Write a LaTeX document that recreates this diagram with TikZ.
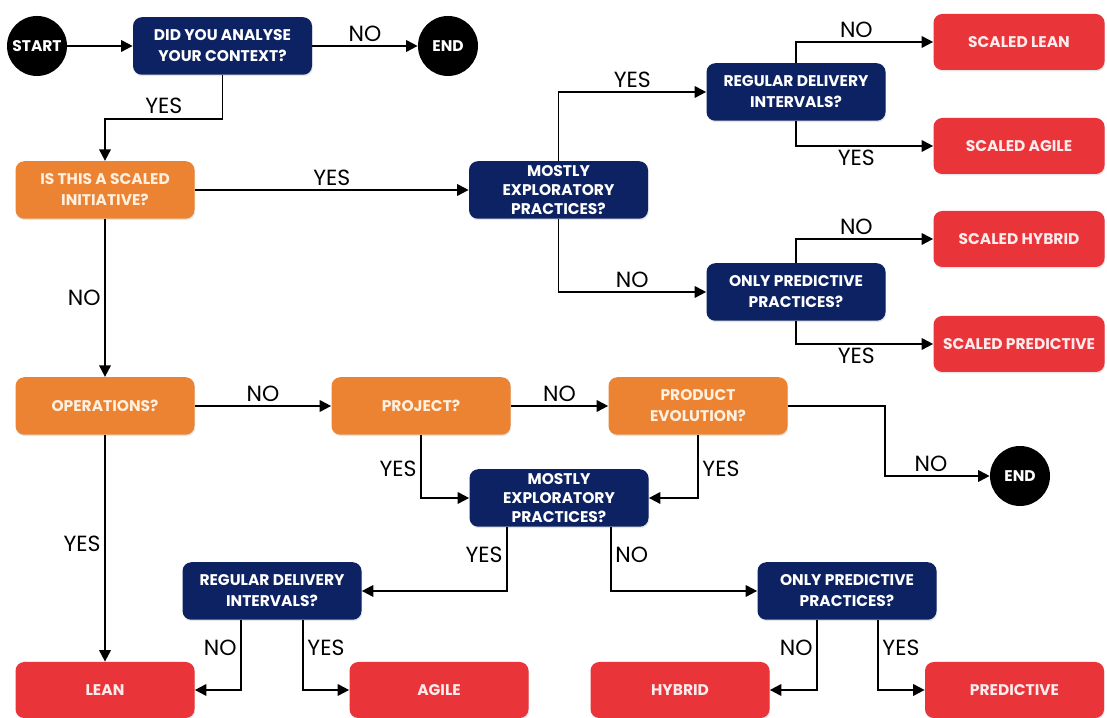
\documentclass[tikz,border=0pt]{standalone}
\usepackage{fontspec}
\setmainfont{Poppins}
\usepackage{tikz}
\usetikzlibrary{arrows.meta, positioning, shadows, calc}
\usepackage{xcolor}

\definecolor{navy}{RGB}{13,34,99}
\definecolor{flowOrange}{RGB}{236,131,50}
\definecolor{flowRed}{RGB}{233,52,58}

\tikzset{
  box/.style={rounded corners=5pt, minimum width=3.58cm, minimum height=1.15cm,
    align=center, inner sep=2pt, font=\bfseries\fontsize{8.8}{12}\selectfont,
    drop shadow={opacity=0.2, shadow xshift=0.4pt, shadow yshift=-0.8pt}},
  question/.style={box, fill=navy, text=white},
  threeline/.style={font=\bfseries\fontsize{8.8}{10.6}\selectfont},
  context/.style={box, fill=flowOrange, text=white!88!orange},
  outcome/.style={box, fill=flowRed, text=white!92!red, minimum height=1.12cm},
  terminal/.style={circle, fill=black, text=white, minimum size=1.2cm, inner sep=0pt,
    font=\bfseries\fontsize{8.8}{10}\selectfont},
  flow/.style={line width=1.1pt, -{Triangle[length=6.5pt, width=6.5pt]}},
  lbl/.style={font=\fontsize{12.5}{14}\selectfont, inner sep=2pt}
}

\begin{document}
\begin{tikzpicture}

  \fill[white] (0,0) rectangle (22.14,14.36);
  \useasboundingbox (0,0) rectangle (22.14,14.36);

  % Start
  \node[terminal] (start) at (0.74,13.44) {START};
  \node[question] (analyse) at (4.45,13.44) {DID YOU ANALYSE\\YOUR CONTEXT?};
  \node[terminal] (end1) at (8.96,13.44) {END};

  % Scaled branch
  \node[context] (scaled) at (2.10,10.56) {IS THIS A SCALED\\INITIATIVE?};
  \node[question, threeline] (mostlyS) at (11.17,10.56) {MOSTLY\\EXPLORATORY\\PRACTICES?};
  \node[question] (regularS) at (15.92,12.52) {REGULAR DELIVERY\\INTERVALS?};
  \node[question] (onlyS) at (15.92,8.52) {ONLY PREDICTIVE\\PRACTICES?};
  \node[outcome, minimum width=3.42cm] (scLean) at (20.38,13.52) {SCALED LEAN};
  \node[outcome, minimum width=3.42cm] (scAgile) at (20.38,11.44) {SCALED AGILE};
  \node[outcome, minimum width=3.42cm] (scHybrid) at (20.38,9.58) {SCALED HYBRID};
  \node[outcome, minimum width=3.42cm] (scPredictive) at (20.38,7.48) {SCALED PREDICTIVE};

  % Non-scaled branch
  \node[context] (operations) at (2.10,6.24) {OPERATIONS?};
  \node[context] (project) at (8.42,6.24) {PROJECT?};
  \node[context] (product) at (13.96,6.24) {PRODUCT\\EVOLUTION?};
  \node[terminal] (end2) at (20.40,4.84) {END};
  \node[question, threeline] (mostly) at (11.18,4.40) {MOSTLY\\EXPLORATORY\\PRACTICES?};
  \node[question] (regular) at (5.44,2.54) {REGULAR DELIVERY\\INTERVALS?};
  \node[question] (only) at (16.94,2.54) {ONLY PREDICTIVE\\PRACTICES?};
  \node[outcome] (lean) at (2.10,0.56) {LEAN};
  \node[outcome] (agile) at (8.78,0.56) {AGILE};
  \node[outcome] (hybrid) at (13.60,0.56) {HYBRID};
  \node[outcome] (predictive) at (20.29,0.56) {PREDICTIVE};

  % Connectors, top
  \draw[flow] (start) -- (analyse);
  \draw[flow] (analyse) -- node[lbl, above] {NO} (end1);
  \draw[flow] (analyse.south) -- ++(0,-0.87) -| node[lbl, above, pos=0.25] {YES} (scaled.north);
  \draw[flow] (scaled) -- node[lbl, above] {YES} (mostlyS);
  \draw[flow] (mostlyS.north) |- node[lbl, above, pos=0.75] {YES} (regularS.west);
  \draw[flow] (mostlyS.south) |- node[lbl, above, pos=0.75] {NO} (onlyS.west);
  \draw[flow] (regularS.north) |- node[lbl, above, pos=0.72] {NO} (scLean.west);
  \draw[flow] (regularS.south) |- node[lbl, below, pos=0.72] {YES} (scAgile.west);
  \draw[flow] (onlyS.north) |- node[lbl, above, pos=0.72] {NO} (scHybrid.west);
  \draw[flow] (onlyS.south) |- node[lbl, below, pos=0.72] {YES} (scPredictive.west);

  % Connectors, bottom
  \draw[flow] (scaled) -- node[lbl, left] {NO} (operations);
  \draw[flow] (operations) -- node[lbl, above] {NO} (project);
  \draw[flow] (project) -- node[lbl, above] {NO} (product);
  \draw[flow] (operations) -- node[lbl, left, pos=0.48] {YES} (lean);
  \draw[flow] (product.east) -- ++(1.94,0) |- node[lbl, above, pos=0.72] {NO} (end2.west);
  \draw[flow] (project.south) |- node[lbl, left, pos=0.27] {YES} (mostly.west);
  \draw[flow] (product.south) |- node[lbl, right, pos=0.27] {YES} (mostly.east);
  \draw[flow] ([xshift=-1.04cm]mostly.south) |- node[lbl, left, pos=0.22] {YES} (regular.east);
  \draw[flow] ([xshift=1.04cm]mostly.south) |- node[lbl, right, pos=0.22] {NO} (only.west);
  \draw[flow] ([xshift=-0.62cm]regular.south) |- node[lbl, left, pos=0.2] {NO} (lean.east);
  \draw[flow] ([xshift=0.62cm]regular.south) |- node[lbl, right, pos=0.2] {YES} (agile.west);
  \draw[flow] ([xshift=-0.6cm]only.south) |- node[lbl, left, pos=0.2] {NO} (hybrid.east);
  \draw[flow] ([xshift=0.62cm]only.south) |- node[lbl, right, pos=0.2] {YES} (predictive.west);

\end{tikzpicture}
\end{document}
